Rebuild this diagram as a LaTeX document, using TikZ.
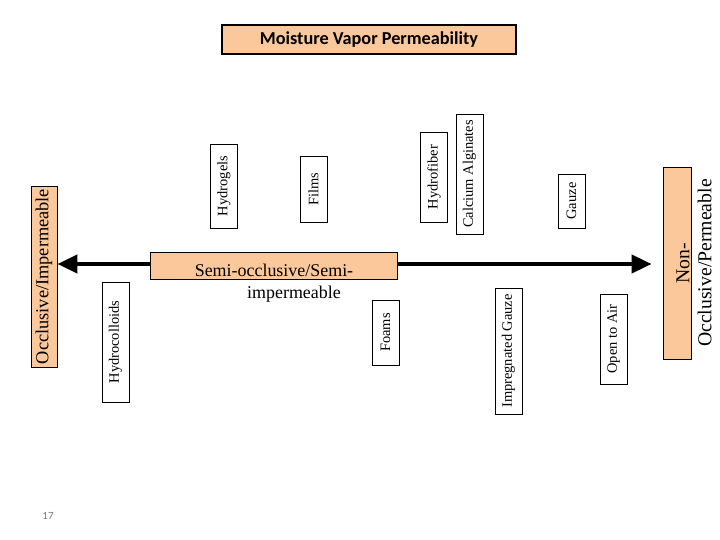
\documentclass[tikz,border=0pt]{standalone}
\usepackage{fontspec}
\setmainfont{Liberation Serif}
\newfontfamily\titlefont{Carlito}
\usetikzlibrary{arrows.meta}
\definecolor{peach}{RGB}{250,200,155}
\definecolor{pgnum}{RGB}{120,120,120}
\tikzset{
  smallbox/.style={draw=black, line width=0.8bp, fill=white, rotate=90, inner sep=0pt,
    minimum height=27bp, font=\fontsize{14.5}{16}\selectfont},
  peachbox/.style={draw=black, line width=0.8bp, fill=peach, inner sep=0pt},
  bigtext/.style={rotate=90, inner sep=0pt, align=center},
  axis/.style={line width=4bp, {Triangle[length=20bp,width=18bp]}-{Triangle[length=20bp,width=18bp]}}
}
\begin{document}
\begin{tikzpicture}[x=1bp,y=-1bp]
\useasboundingbox (0,0) rectangle (720,540);
\fill[white] (0,0) rectangle (720,540);
% title
\node[peachbox, line width=2.5bp, minimum width=294bp, minimum height=29bp,
  font=\titlefont\bfseries\fontsize{18.3}{21}\selectfont] (title) at (369,39.5) {Moisture Vapor Permeability};
% end boxes
\node[peachbox, rotate=90, minimum width=181bp, minimum height=26bp,
  font=\fontsize{18.4}{21}\selectfont] (occl) at (44,276.5) {Occlusive/Impermeable};
\node[peachbox, rotate=90, minimum width=192bp, minimum height=28bp] (nonocc) at (677,263) {};
\node[bigtext, font=\fontsize{19.8}{22}\selectfont] (nonocctext) at (694,263) {Non-\\Occlusive/Permeable};
% axis
\coordinate (ay) at (0,264);
\draw[axis] (occl.south |- ay) -- ([xshift=-11bp]nonocc.north |- ay);
% semi box
\node[peachbox, minimum width=247bp, minimum height=27bp] (semi) at (273.5,265.5) {};
\node[inner sep=0pt, align=center, font=\fontsize{18}{22}\selectfont] (semitext) at (274,283)
  {Semi-occlusive/Semi-\\\hspace*{40bp}impermeable};
% small boxes
\node[smallbox, minimum width=120bp] (hcol) at (115.5,342) {Hydrocolloids};
\node[smallbox, minimum width=84bp] (hgel) at (224,186) {Hydrogels};
\node[smallbox, minimum width=66bp] (film) at (313.5,189) {Films};
\node[smallbox, minimum width=65bp] (foam) at (385.5,332.5) {Foams};
\node[smallbox, minimum width=90bp] (hfib) at (434,177) {Hydrofiber};
\node[smallbox, minimum width=120bp] (calg) at (469.5,174) {Calcium Alginates};
\node[smallbox, minimum width=54bp] (gauze) at (571.5,201) {Gauze};
\node[smallbox, minimum width=126bp] (igauze) at (508.5,351) {Impregnated Gauze};
\node[smallbox, minimum width=90bp] (oair) at (613.5,339) {Open to Air};
% page number
\node[text=pgnum, font=\titlefont\fontsize{11}{13}\selectfont, inner sep=0pt] (pnum) at (48,516) {17};
\end{tikzpicture}
\end{document}
